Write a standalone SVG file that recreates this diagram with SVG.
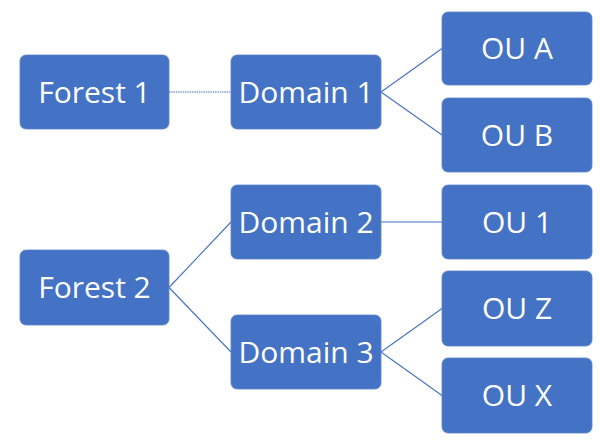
<svg xmlns="http://www.w3.org/2000/svg" width="600" height="442" viewBox="0 0 600 442">
<style>
.box{fill:#4472C4;stroke:#5B84CC;stroke-width:0.8}
.t{font-family:"Open Sans","Noto Sans",sans-serif;font-size:30px;fill:#fff;text-anchor:middle}
.c{stroke:#4472C4;stroke-width:1.1;fill:none}
</style>
<rect width="600" height="442" fill="#fff"/>
<g id="connectors">
<line class="c" x1="169" y1="92" x2="231" y2="92" stroke-dasharray="1.5 0.8"/>
<line class="c" x1="381" y1="92" x2="442" y2="48.5"/>
<line class="c" x1="381" y1="92" x2="442" y2="135"/>
<line class="c" x1="169" y1="287.5" x2="231" y2="222"/>
<line class="c" x1="169" y1="287.5" x2="231" y2="352"/>
<line class="c" x1="381" y1="222" x2="442" y2="222"/>
<line class="c" x1="381" y1="352" x2="442" y2="308.5"/>
<line class="c" x1="381" y1="352" x2="442" y2="395.5"/>
</g>
<g id="forest1"><rect class="box" x="20" y="55" width="149" height="74" rx="6"/><text class="t" x="94.5" y="102.7">Forest 1</text></g>
<g id="domain1"><rect class="box" x="231" y="55" width="150" height="74" rx="6"/><text class="t" x="306" y="102.7">Domain 1</text></g>
<g id="ouA"><rect class="box" x="442" y="12" width="150" height="73" rx="6"/><text class="t" x="517" y="59.2">OU A</text></g>
<g id="ouB"><rect class="box" x="442" y="98" width="150" height="74" rx="6"/><text class="t" x="517" y="145.7">OU B</text></g>
<g id="forest2"><rect class="box" x="20" y="250" width="149" height="75" rx="6"/><text class="t" x="94.5" y="298.2">Forest 2</text></g>
<g id="domain2"><rect class="box" x="231" y="185" width="150" height="74" rx="6"/><text class="t" x="306" y="232.7">Domain 2</text></g>
<g id="ou1"><rect class="box" x="442" y="185" width="150" height="74" rx="6"/><text class="t" x="517" y="232.7">OU 1</text></g>
<g id="domain3"><rect class="box" x="231" y="315" width="150" height="74" rx="6"/><text class="t" x="306" y="362.7">Domain 3</text></g>
<g id="ouZ"><rect class="box" x="442" y="271" width="150" height="75" rx="6"/><text class="t" x="517" y="319.2">OU Z</text></g>
<g id="ouX"><rect class="box" x="442" y="358" width="150" height="75" rx="6"/><text class="t" x="517" y="406.2">OU X</text></g>
</svg>
